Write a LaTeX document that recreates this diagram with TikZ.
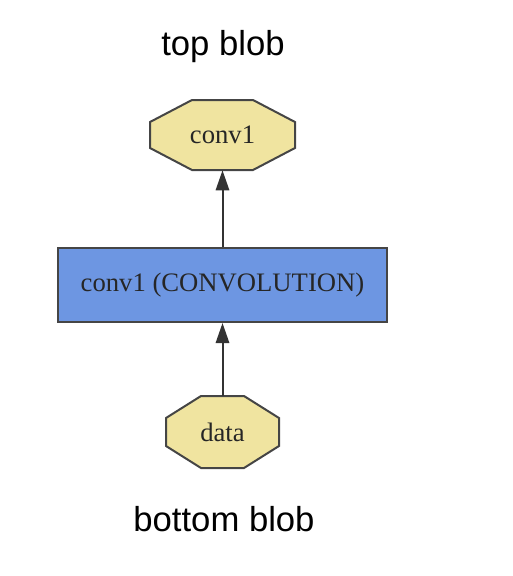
\documentclass[tikz,border=0pt]{standalone}
\usepackage{fontspec}
\setmainfont{Liberation Serif}
\newfontfamily\captionfont{Liberation Sans}
\usetikzlibrary{arrows.meta,backgrounds}

\definecolor{blobfill}{HTML}{F0E4A0}
\definecolor{layerfill}{HTML}{6D96E2}
\definecolor{edgegray}{HTML}{454545}

% octagon behind a blob node: #1 name, #2 half width, #3 half height, #4 x cut, #5 y cut
\newcommand{\blobshape}[5]{%
    \filldraw[draw=edgegray,line width=1.5pt,fill=blobfill]
        ([shift={(-#2+#4,-#3)}]#1.center) -- ([shift={(#2-#4,-#3)}]#1.center)
        -- ([shift={(#2,-#3+#5)}]#1.center) -- ([shift={(#2,#3-#5)}]#1.center)
        -- ([shift={(#2-#4,#3)}]#1.center) -- ([shift={(-#2+#4,#3)}]#1.center)
        -- ([shift={(-#2,#3-#5)}]#1.center) -- ([shift={(-#2,-#3+#5)}]#1.center) -- cycle;}

\begin{document}
\begin{tikzpicture}[x=0.75pt,y=-0.75pt,
        blob/.style={rectangle,text=black!85,font=\fontsize{20}{24}\selectfont,inner sep=0pt},
        layer/.style={rectangle,draw=edgegray,line width=1.5pt,fill=layerfill,
            text=black!85,font=\fontsize{20}{24}\selectfont,inner sep=0pt},
        flow/.style={-{Triangle[length=15pt,width=10pt]},line width=1.5pt,draw=black!80},
        caption/.style={font=\captionfont\fontsize{26}{30}\selectfont}]
        % Canvas
        \useasboundingbox (0,0) rectangle (512,576);

        % Blobs and layer
        \node[blob,minimum width=108.75pt,minimum height=52.5pt] (topblob) at (222.5,135) {conv1};
        \node[layer,minimum width=246.75pt,minimum height=55.5pt] (convlayer) at (222.5,285) {conv1 (CONVOLUTION)};
        \node[blob,minimum width=84.75pt,minimum height=54pt] (datablob) at (222.5,432) {data};

        % Octagon outlines
        \begin{scope}[on background layer]
            \blobshape{topblob}{72.5}{35}{42}{22}
            \blobshape{datablob}{56.5}{36}{35}{22}
        \end{scope}

        % Data flow
        \draw[flow] (datablob) -- (convlayer);
        \draw[flow] (convlayer) -- (topblob);

        % Captions
        \node[caption] (toplabel) at (223,47) {top blob};
        \node[caption] (bottomlabel) at (224,519) {bottom blob};
    \end{tikzpicture}
\end{document}
